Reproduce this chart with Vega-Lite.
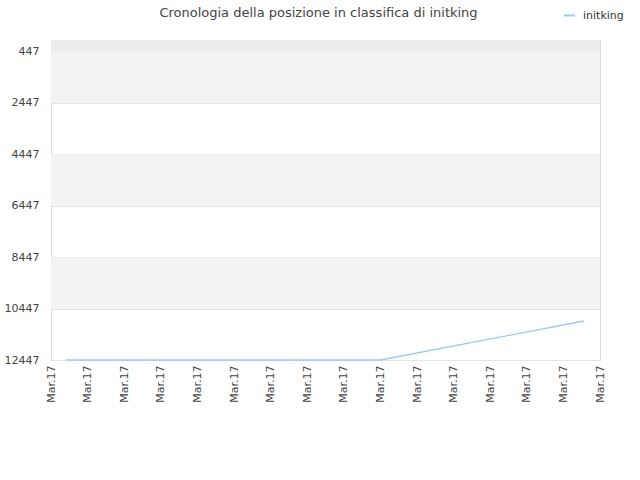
{
  "$schema": "https://vega.github.io/schema/vega-lite/v6.json",
  "autosize": "none",
  "width": 549,
  "height": 320,
  "padding": {"left": 51, "top": 40, "right": 40, "bottom": 120},
  "background": "white",
  "config": {
    "font": "DejaVu Sans",
    "view": {"stroke": "#dddddd", "strokeWidth": 1}
  },
  "title": {
    "text": "Cronologia della posizione in classifica di initking",
    "fontSize": 13,
    "fontWeight": "normal",
    "color": "#444444",
    "anchor": "middle",
    "frame": "group",
    "dx": -7,
    "offset": -11
  },
  "layer": [
    {
      "data": {"values": [{"lo": 1, "hi": 447}]},
      "mark": {"type": "rect", "fill": "#ececec"},
      "encoding": {
        "y": {"field": "lo", "type": "quantitative"},
        "y2": {"field": "hi"}
      }
    },
    {
      "data": {"values": [
        {"lo": 447, "hi": 2447},
        {"lo": 4447, "hi": 6447},
        {"lo": 8447, "hi": 10447}
      ]},
      "mark": {"type": "rect", "fill": "#f3f3f3"},
      "encoding": {
        "y": {"field": "lo", "type": "quantitative"},
        "y2": {"field": "hi"}
      }
    },
    {
      "data": {"values": [
        {"hour": 0.41, "rank": 12447, "name": "initking"},
        {"hour": 9.0, "rank": 12447, "name": "initking"},
        {"hour": 14.56, "rank": 10930, "name": "initking"}
      ]},
      "mark": {"type": "line", "strokeWidth": 1.3},
      "encoding": {
        "x": {
          "field": "hour",
          "type": "quantitative",
          "scale": {"domain": [0, 15], "nice": false, "zero": false},
          "axis": {
            "title": null,
            "values": [0, 1, 2, 3, 4, 5, 6, 7, 8, 9, 10, 11, 12, 13, 14, 15],
            "labelExpr": "'Mar.17'",
            "labelAngle": -90,
            "labelAlign": "right",
            "labelBaseline": "middle",
            "labelFontSize": 11,
            "labelColor": "#444444",
            "labelPadding": 5,
            "ticks": false,
            "domain": false,
            "grid": false,
            "labelOverlap": false,
            "labelFlush": false
          }
        },
        "y": {
          "field": "rank",
          "type": "quantitative",
          "scale": {"domain": [1, 12447], "reverse": true, "nice": false, "zero": false},
          "axis": {
            "title": null,
            "values": [447, 2447, 4447, 6447, 8447, 10447, 12447],
            "format": "d",
            "labelFontSize": 11,
            "labelColor": "#444444",
            "labelPadding": 12,
            "ticks": false,
            "domain": false,
            "gridColor": "#e3e3e3",
            "labelFlush": false
          }
        },
        "color": {
          "field": "name",
          "type": "nominal",
          "scale": {"range": ["#99c9f5"]},
          "legend": {
            "title": null,
            "orient": "none",
            "legendX": 512,
            "legendY": -31,
            "symbolType": "stroke",
            "symbolSize": 120,
            "symbolStrokeWidth": 2,
            "labelOffset": 7,
            "labelFontSize": 11,
            "labelColor": "#333333"
          }
        }
      }
    }
  ]
}
